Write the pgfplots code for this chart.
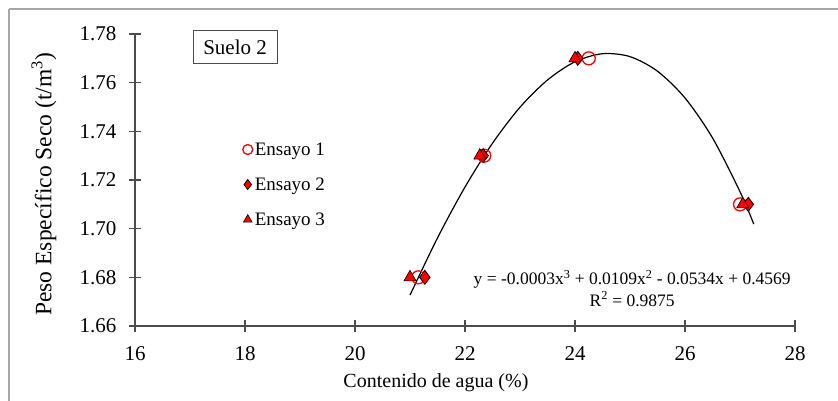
\documentclass[border=0pt]{standalone}
\usepackage{fontspec}
\setmainfont{Liberation Serif}
\usepackage{pgfplots}
\pgfplotsset{compat=1.18}
\begin{document}
\begin{tikzpicture}
\useasboundingbox (0bp,0bp) rectangle (838bp,401bp);
\draw[gray!70, line width=2bp] (9bp,392bp) -- (838bp,392bp);
\draw[gray!70, line width=2bp] (9bp,392bp) -- (9bp,0bp);
\begin{axis}[
  at={(135bp,75bp)}, anchor=south west,
  scale only axis, width=660bp, height=292bp,
  xmin=16, xmax=28, ymin=1.66, ymax=1.78,
  axis lines=left,
  axis line style={-, line width=1.5bp, draw=gray!60!black},
  xtick={16,18,20,22,24,26,28},
  ytick={1.66,1.68,1.70,1.72,1.74,1.76,1.78},
  tick align=center, major tick length=12bp,
  tick style={line width=1.2bp, draw=gray!60!black},
  /pgf/number format/assume math mode=true,
  ticklabel style={font=\fontsize{21bp}{24bp}\selectfont},
  xticklabel style={yshift=-11bp},
  yticklabel style={xshift=-9bp, /pgf/number format/.cd, fixed, fixed zerofill, precision=2},
  xlabel={Contenido de agua (\%)},
  ylabel={Peso Específico Seco (t/m\textsuperscript{3})},
  xlabel style={at={(axis description cs:0.456,0)}, anchor=center, yshift=-57bp, font=\fontsize{20bp}{24bp}\selectfont},
  ylabel style={at={(axis description cs:-0.138,0.485)}, anchor=center, font=\fontsize{23.5bp}{26bp}\selectfont},
  clip=false,
  legend style={at={(rel axis cs:0.163,0.636)}, anchor=north west, draw=none, fill=none,
    font=\fontsize{19bp}{21bp}\selectfont, row sep=17bp, inner sep=0pt},
  legend cell align=left,
  legend image post style={mark size=5bp},
]
\addplot[only marks, mark=o, mark size=6.5bp, red, line width=1.3bp]
  coordinates {(21.15,1.68) (22.35,1.73) (24.25,1.77) (27.0,1.71)};
\addlegendentry{Ensayo 1}
\addplot[only marks, mark=diamond*, mark size=7bp, draw=black, fill=red, line width=0.8bp]
  coordinates {(21.27,1.68) (22.33,1.73) (24.05,1.77) (27.15,1.71)};
\addlegendentry{Ensayo 2}
\addplot[only marks, mark=triangle*, mark size=7bp, draw=black, fill=red, line width=0.6bp]
  coordinates {(21.0,1.68) (22.27,1.73) (24.0,1.77) (27.05,1.71)};
\addlegendentry{Ensayo 3}
\addplot[black, line width=1.2bp, smooth, forget plot]
  coordinates {(21.0,1.6727) (21.5,1.6962) (22,1.7171) (22.5,1.7351) (23,1.7499)
   (23.5,1.7611) (24,1.7686) (24.5,1.7719) (25,1.7707) (25.5,1.7647)
   (26,1.7537) (26.5,1.7373) (27,1.7152) (27.25,1.7019)};
\node[draw=gray!60!black, line width=1.2bp, minimum width=84bp, minimum height=33bp, inner sep=0pt,
  font=\fontsize{21bp}{24bp}\selectfont] at (axis cs:17.82,1.7747) {Suelo 2};
\node[font=\fontsize{17.5bp}{19bp}\selectfont] at (axis cs:25.04,1.6793)
  {y = -0.0003x\textsuperscript{3} + 0.0109x\textsuperscript{2} - 0.0534x + 0.4569};
\node[font=\fontsize{17.5bp}{19bp}\selectfont] at (axis cs:25.04,1.6711)
  {R\textsuperscript{2} = 0.9875};
\end{axis}
\end{tikzpicture}
\end{document}
